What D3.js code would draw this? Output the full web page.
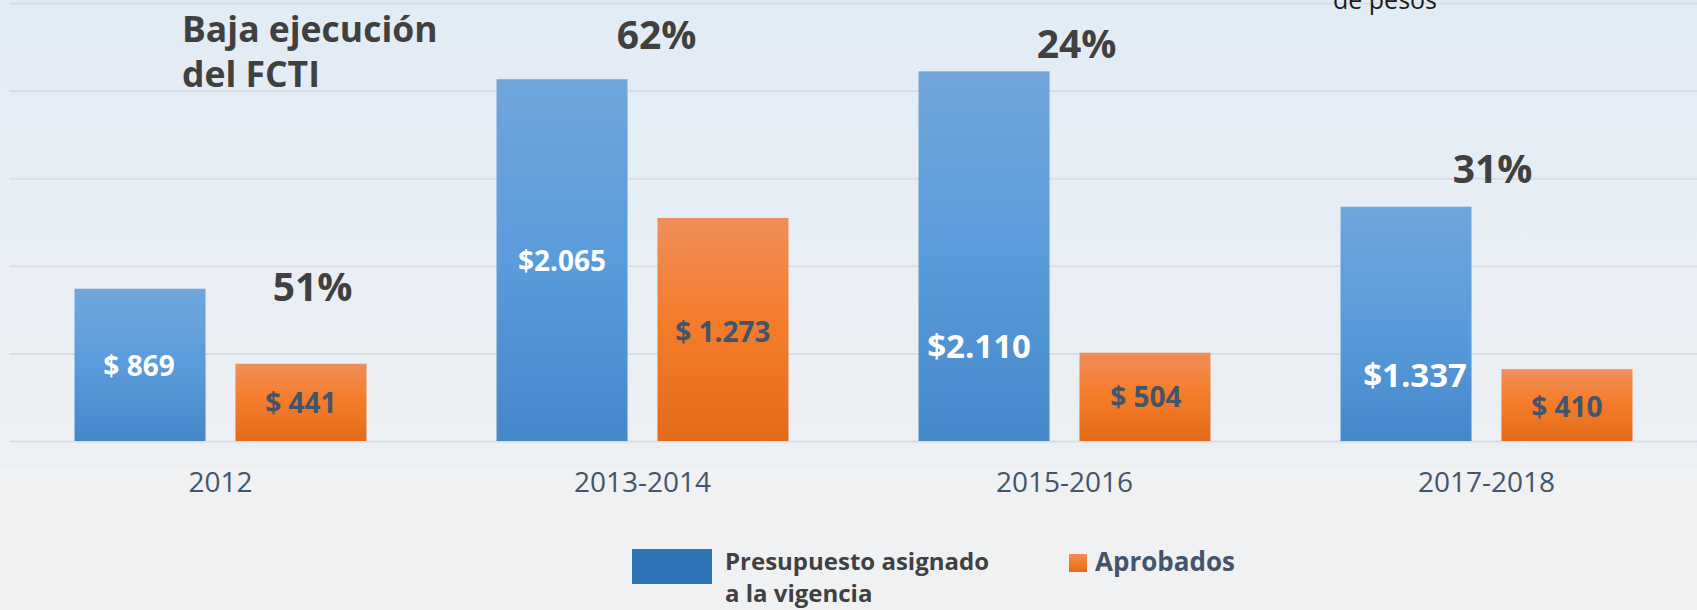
<!DOCTYPE html>
<html>
<head>
<meta charset="utf-8">
<script src="https://cdn.jsdelivr.net/npm/d3@7"></script>
<style>
  body { margin: 0; background: #f0f1f3; }
  svg { display: block; }
  text { font-family: "Open Sans", sans-serif; }
</style>
</head>
<body>
<script>
// chart data
var periods = ["2012", "2013-2014", "2015-2016", "2017-2018"];
var presupuesto = [869, 2065, 2110, 1337];
var aprobados = [441, 1273, 504, 410];
var presupuestoLabels = ["$ 869", "$2.065", "$2.110", "$1.337"];
var aprobadosLabels = ["$ 441", "$ 1.273", "$ 504", "$ 410"];
var pctLabels = ["51%", "62%", "24%", "31%"];
var gridTicks = [0, 500, 1000, 1500, 2000, 2500];
var seriesNames = ["Presupuesto asignado a la vigencia", "Aprobados"];

// svg size
var svgWidth = 1697;
var svgHeight = 610;

var plot = { left: 9.5, right: 1697.5, top: 3, bottom: 441 };

var svg = d3.select("body")
  .append("svg")
  .attr("width", svgWidth)
  .attr("height", svgHeight);

var defs = svg.append("defs");

function vGrad(id, stops) {
  var g = defs.append("linearGradient")
    .attr("id", id)
    .attr("x1", 0).attr("y1", 0)
    .attr("x2", 0).attr("y2", 1);
  stops.forEach(function(s) {
    g.append("stop").attr("offset", s[0]).attr("stop-color", s[1]);
  });
}
vGrad("bgGrad", [["0%", "#e2ecf6"], ["100%", "#edf0f3"]]);
vGrad("blueGrad", [["0%", "#70a6db"], ["50%", "#5a9bdb"], ["100%", "#4588c9"]]);
vGrad("orangeGrad", [["0%", "#f18e5a"], ["45%", "#f47d2b"], ["100%", "#e46b1a"]]);

// plot area background
svg.append("rect")
  .attr("x", 0).attr("y", 0)
  .attr("width", svgWidth).attr("height", 468)
  .attr("fill", "url(#bgGrad)");

// scales
var x0 = d3.scaleBand()
  .domain(periods)
  .range([plot.left, plot.right]);

var x1 = d3.scaleBand()
  .domain(["p", "a"])
  .range([0, x0.bandwidth()])
  .paddingInner(0.186)
  .paddingOuter(0.404);

var y = d3.scaleLinear()
  .domain([0, 2500])
  .range([plot.bottom, plot.top]);

// gridlines
var gridAxis = d3.axisLeft(y)
  .tickValues(gridTicks)
  .tickSize(-(plot.right - plot.left))
  .tickFormat("");

var grid = svg.append("g")
  .attr("transform", `translate(${plot.left}, 0)`)
  .call(gridAxis);
grid.select(".domain").remove();
grid.selectAll("line")
  .attr("stroke", "#d9dee5")
  .attr("stroke-width", 2);

// category axis
var bottomAxis = d3.axisBottom(x0)
  .tickSize(0)
  .tickPadding(31);

var xAxis = svg.append("g")
  .attr("transform", `translate(0, ${plot.bottom})`)
  .call(bottomAxis);
xAxis.select(".domain").remove();
xAxis.selectAll("text")
  .attr("font-size", 28)
  .attr("fill", "#44546a")
  .style("font-family", "'Open Sans', sans-serif");

// bars
var rows = periods.map(function(p, i) {
  return { period: p, p: presupuesto[i], a: aprobados[i],
    pl: presupuestoLabels[i], al: aprobadosLabels[i], pct: pctLabels[i] };
});

var groups = svg.selectAll(".group")
  .data(rows)
  .enter()
  .append("g")
  .attr("class", "group")
  .attr("transform", d => `translate(${x0(d.period)}, 0)`);

groups.append("rect")
  .attr("x", x1("p"))
  .attr("y", d => y(d.p))
  .attr("width", x1.bandwidth())
  .attr("height", d => y(0) - y(d.p))
  .attr("fill", "url(#blueGrad)");

groups.append("rect")
  .attr("x", x1("a"))
  .attr("y", d => y(d.a))
  .attr("width", x1.bandwidth())
  .attr("height", d => y(0) - y(d.a))
  .attr("fill", "url(#orangeGrad)");

// value labels inside bars (hand-placed: x nudge px, fraction down the bar, font size)
var blueLabelPos = [[-1, 0.57, 28], [0, 0.53, 28], [-5, 0.775, 33], [9, 0.77, 33]];
var orangeLabelPos = [[0, 0.64, 28], [0, 0.555, 28], [1, 0.61, 28], [0, 0.67, 28]];

groups.append("text")
  .attr("x", (d, i) => x1("p") + x1.bandwidth() / 2 + blueLabelPos[i][0])
  .attr("y", (d, i) => y(d.p) + (y(0) - y(d.p)) * blueLabelPos[i][1])
  .attr("text-anchor", "middle")
  .attr("font-weight", "bold")
  .attr("font-size", (d, i) => blueLabelPos[i][2])
  .attr("fill", "#ffffff")
  .text(d => d.pl);

groups.append("text")
  .attr("x", (d, i) => x1("a") + x1.bandwidth() / 2 + orangeLabelPos[i][0])
  .attr("y", (d, i) => y(d.a) + (y(0) - y(d.a)) * orangeLabelPos[i][1])
  .attr("text-anchor", "middle")
  .attr("font-weight", "bold")
  .attr("font-size", (d, i) => orangeLabelPos[i][2])
  .attr("fill", "#44546a")
  .text(d => d.al);

// execution % annotations (x offset px from group centre, baseline in axis units)
var pctPos = [[92, 800], [14, 2238], [12, 2187], [6, 1473]];

groups.append("text")
  .attr("x", (d, i) => x0.bandwidth() / 2 + pctPos[i][0])
  .attr("y", (d, i) => y(pctPos[i][1]))
  .attr("text-anchor", "middle")
  .attr("font-weight", "bold")
  .attr("font-size", 39)
  .attr("fill", "#404040")
  .text(d => d.pct);

// title
var title = svg.append("text")
  .attr("x", 182)
  .attr("y", 42)
  .attr("font-weight", "bold")
  .attr("font-size", 35.5)
  .attr("fill", "#404040");
title.append("tspan").attr("x", 182).text("Baja ejecución");
title.append("tspan").attr("x", 182).attr("dy", 45).text("del FCTI");

// units note (top line is cut off in the original)
svg.append("text")
  .attr("x", 1333)
  .attr("y", 9)
  .attr("font-size", 25)
  .attr("fill", "#1a1a1a")
  .text("de pesos");

// legend
var legend = svg.append("g");
legend.append("rect")
  .attr("x", 632).attr("y", 549)
  .attr("width", 80).attr("height", 35)
  .attr("fill", "#2e75b6");
var lt = legend.append("text")
  .attr("x", 725).attr("y", 570)
  .attr("font-weight", "bold")
  .attr("font-size", 24)
  .attr("fill", "#404040");
lt.append("tspan").attr("x", 725).text("Presupuesto asignado");
lt.append("tspan").attr("x", 725).attr("dy", 32).text("a la vigencia");

legend.append("rect")
  .attr("x", 1069).attr("y", 554)
  .attr("width", 18).attr("height", 18)
  .attr("fill", "url(#orangeGrad)");
legend.append("text")
  .attr("x", 1095).attr("y", 571)
  .attr("font-weight", "bold")
  .attr("font-size", 26)
  .attr("fill", "#44546a")
  .text(seriesNames[1]);
</script>
</body>
</html>
